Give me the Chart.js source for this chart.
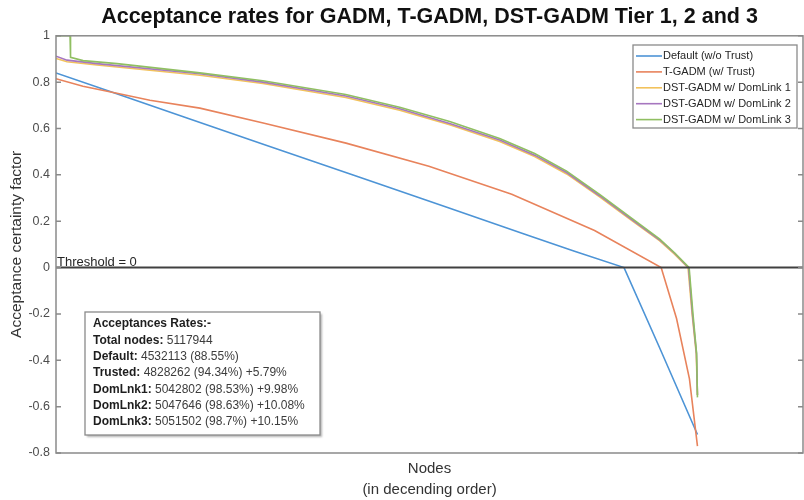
<!DOCTYPE html>
<html>
<head>
<meta charset="utf-8">
<title>Acceptance rates</title>
<script src="https://cdn.jsdelivr.net/npm/chart.js@4.4.1/dist/chart.umd.min.js"></script>
<style>
    html, body { margin: 0; padding: 0; background: #fff; }
    #acceptanceChart { display: block; }
</style>
</head>
<body>
<canvas id="acceptanceChart" width="804" height="500"></canvas>
<script>
// nodes are ranked in descending order of acceptance
const axisMaxNodes = 5960000;

const defaultNodes = [0, 496000, 1091000, 1653000, 2446000, 3107000, 3735000, 4131000, 4532113, 4815000, 5117944];
const defaultValues = [0.84, 0.748, 0.637, 0.532, 0.385, 0.262, 0.145, 0.072, 0, -0.345, -0.72];

const trustNodes = [0, 215000, 486000, 749000, 1148000, 1653000, 2314000, 2975000, 3636000, 4297000, 4828262, 4951000, 5054000, 5117944];
const trustValues = [0.815, 0.782, 0.752, 0.722, 0.688, 0.624, 0.537, 0.437, 0.316, 0.16, 0, -0.22, -0.48, -0.77];

const domLink1Nodes = [0, 88000, 327000, 1148000, 1650000, 2312000, 2742000, 3141000, 3540000, 3819000, 4074000, 4337000, 4600000, 4815000, 4935000, 5042802, 5075000, 5108000, 5117944];
const domLink1Values = [0.902, 0.888, 0.874, 0.83, 0.794, 0.734, 0.679, 0.616, 0.544, 0.479, 0.404, 0.305, 0.2, 0.116, 0.058, 0, -0.2, -0.37, -0.55];

const domLink2Nodes = [0, 88000, 327000, 1148000, 1650000, 2312000, 2742000, 3141000, 3540000, 3819000, 4074000, 4337000, 4600000, 4815000, 4935000, 5047646, 5078000, 5110000, 5117944];
const domLink2Values = [0.912, 0.895, 0.88, 0.836, 0.8, 0.74, 0.685, 0.622, 0.55, 0.485, 0.41, 0.31, 0.205, 0.12, 0.062, 0, -0.2, -0.37, -0.55];

const domLink3Nodes = [0, 112000, 116000, 216000, 487000, 1148000, 1650000, 2312000, 2742000, 3141000, 3540000, 3819000, 4074000, 4337000, 4600000, 4815000, 4935000, 5051502, 5082000, 5111000, 5117944];
const domLink3Values = [1, 1, 0.907, 0.893, 0.88, 0.84, 0.806, 0.747, 0.692, 0.63, 0.557, 0.492, 0.416, 0.316, 0.21, 0.124, 0.064, 0, -0.2, -0.37, -0.56];

const seriesLabels = ['Default (w/o Trust)', 'T-GADM (w/ Trust)', 'DST-GADM w/ DomLink 1', 'DST-GADM w/ DomLink 2', 'DST-GADM w/ DomLink 3'];
const seriesColors = ['#4d94d6', '#e8835c', '#f2c25c', '#a676bf', '#90bf62'];

const yTickValues = [-0.8, -0.6, -0.4, -0.2, 0, 0.2, 0.4, 0.6, 0.8, 1];
const yTickLabels = ['-0.8', '-0.6', '-0.4', '-0.2', '0', '0.2', '0.4', '0.6', '0.8', '1'];

const thresholdNodes = [0, axisMaxNodes];
const thresholdValues = [0, 0];
const thresholdLabel = 'Threshold = 0';

const statLabels = ['Acceptances Rates:-', 'Total nodes:', 'Default:', 'Trusted:', 'DomLnk1:', 'DomLnk2:', 'DomLnk3:'];
const statValues = ['', ' 5117944', ' 4532113 (88.55%)', ' 4828262 (94.34%) +5.79%', ' 5042802 (98.53%) +9.98%', ' 5047646 (98.63%) +10.08%', ' 5051502 (98.7%) +10.15%'];

const FONT = '"Liberation Sans", Arial, Helvetica, sans-serif';
Chart.defaults.font.family = FONT;

function toPoints(nodes, values) {
    return nodes.map((n, k) => ({ x: n, y: values[k] }));
}

function yTickLabel(value) {
    const k = yTickValues.findIndex(v => Math.abs(v - value) < 1e-6);
    return k >= 0 ? yTickLabels[k] : '';
}

const seriesNodes = [defaultNodes, trustNodes, domLink1Nodes, domLink2Nodes, domLink3Nodes];
const seriesValues = [defaultValues, trustValues, domLink1Values, domLink2Values, domLink3Values];

const datasets = seriesLabels.map((label, i) => ({
    label: label,
    data: toPoints(seriesNodes[i], seriesValues[i]),
    showLine: true,
    borderColor: seriesColors[i],
    backgroundColor: seriesColors[i],
    borderWidth: 1.6,
    pointRadius: 0,
    tension: 0,
    order: seriesLabels.length - i
}));

datasets.push({
    label: 'threshold',
    data: toPoints(thresholdNodes, thresholdValues),
    showLine: true,
    borderColor: '#404040',
    borderWidth: 2,
    pointRadius: 0,
    order: 0
});

// axes box, inward ticks, legend and the stats text box (MATLAB look)
const figureDecor = {
    id: 'figureDecor',
    afterDatasetsDraw(chart) {
        const { ctx, chartArea: area, scales: { y } } = chart;
        ctx.save();

        ctx.strokeStyle = '#8a8a8a';
        ctx.lineWidth = 1.5;
        ctx.strokeRect(area.left, area.top, area.right - area.left, area.bottom - area.top);
        ctx.beginPath();
        y.ticks.forEach(t => {
            const py = y.getPixelForValue(t.value);
            ctx.moveTo(area.left, py);
            ctx.lineTo(area.left + 5, py);
            ctx.moveTo(area.right, py);
            ctx.lineTo(area.right - 5, py);
        });
        ctx.stroke();

        // threshold label sits on the line
        const ty = y.getPixelForValue(thresholdValues[0]);
        ctx.fillStyle = '#262626';
        ctx.font = '13px ' + FONT;
        ctx.textAlign = 'left';
        ctx.textBaseline = 'bottom';
        ctx.fillText(thresholdLabel, area.left + 1, ty + 1);

        // legend
        const lg = { left: 633, top: 45, width: 164, height: 83 };
        ctx.fillStyle = '#fff';
        ctx.fillRect(lg.left, lg.top, lg.width, lg.height);
        ctx.strokeStyle = '#8a8a8a';
        ctx.lineWidth = 1.3;
        ctx.strokeRect(lg.left, lg.top, lg.width, lg.height);
        ctx.font = '11px ' + FONT;
        ctx.textBaseline = 'middle';
        seriesLabels.forEach((label, i) => {
            const rowY = lg.top + 11 + i * 15.9;
            ctx.strokeStyle = seriesColors[i];
            ctx.lineWidth = 1.6;
            ctx.beginPath();
            ctx.moveTo(lg.left + 3, rowY);
            ctx.lineTo(lg.left + 29, rowY);
            ctx.stroke();
            ctx.fillStyle = '#262626';
            ctx.fillText(label, lg.left + 30, rowY);
        });

        // stats box
        const sb = { left: 85, top: 312, width: 235, height: 123 };
        ctx.save();
        ctx.shadowColor = 'rgba(0,0,0,0.3)';
        ctx.shadowOffsetX = 1.5;
        ctx.shadowOffsetY = 1.5;
        ctx.shadowBlur = 2;
        ctx.fillStyle = '#fff';
        ctx.fillRect(sb.left, sb.top, sb.width, sb.height);
        ctx.restore();
        ctx.strokeStyle = '#8a8a8a';
        ctx.lineWidth = 1.3;
        ctx.strokeRect(sb.left, sb.top, sb.width, sb.height);
        statLabels.forEach((label, i) => {
            const rowY = sb.top + 12 + i * 16.3;
            ctx.font = 'bold 12px ' + FONT;
            ctx.fillStyle = '#1e1e1e';
            ctx.fillText(label, sb.left + 8, rowY);
            const w = ctx.measureText(label).width;
            ctx.font = '12px ' + FONT;
            ctx.fillStyle = '#3c3c3c';
            ctx.fillText(statValues[i], sb.left + 8 + w, rowY);
        });

        ctx.restore();
    }
};

const ctx = document.getElementById('acceptanceChart').getContext('2d');

window.chart = new Chart(ctx, {
    type: 'scatter',
    data: { datasets: datasets },
    options: {
        responsive: false,
        devicePixelRatio: 1,
        animation: false,
        events: [],
        layout: { padding: { left: 0, right: 1, top: 0, bottom: 0 } },
        plugins: {
            legend: { display: false },
            tooltip: { enabled: false },
            title: {
                display: true,
                fullSize: false,
                text: 'Acceptance rates for GADM, T-GADM, DST-GADM Tier 1, 2 and 3',
                color: '#111',
                font: { size: 21.5, weight: 'bold' },
                padding: { top: 4, bottom: 6 }
            }
        },
        scales: {
            x: {
                type: 'linear',
                min: 0,
                max: axisMaxNodes,
                grid: { display: false, drawTicks: false },
                border: { display: false },
                ticks: { display: false },
                title: {
                    display: true,
                    text: ['Nodes', '(in decending order)'],
                    color: '#333',
                    font: { size: 15, lineHeight: '21px' },
                    padding: { top: 0, bottom: 0 }
                },
                afterFit: scale => { scale.height = 47; }
            },
            y: {
                min: -0.8,
                max: 1,
                grid: { display: false, drawTicks: false },
                border: { display: false },
                afterBuildTicks: scale => { scale.ticks = yTickValues.map(v => ({ value: v })); },
                ticks: { padding: 6, color: '#4d4d4d', font: { size: 12.5 }, callback: value => yTickLabel(value) },
                title: {
                    display: true,
                    text: 'Acceptance certainty factor',
                    color: '#333',
                    font: { size: 15.5 },
                    padding: { top: 7, bottom: 0 }
                },
                afterFit: scale => { scale.width = 56; }
            }
        }
    },
    plugins: [figureDecor]
});
</script>
</body>
</html>
